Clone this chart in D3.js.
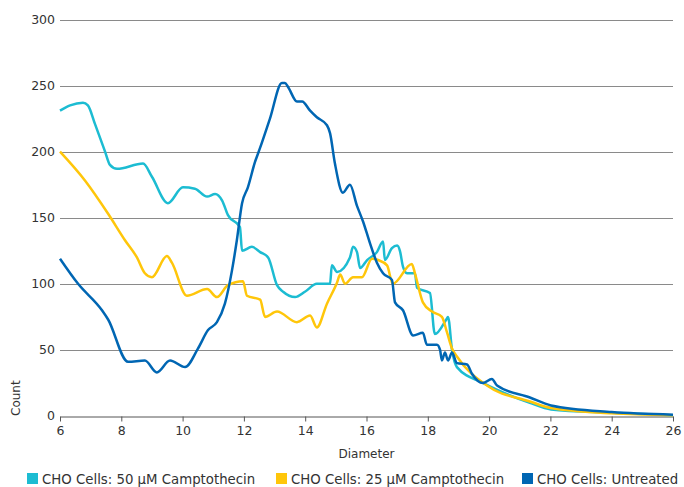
<!DOCTYPE html>
<html><head><meta charset="utf-8">
<script src="https://cdn.jsdelivr.net/npm/d3@7"></script>
<style>body{margin:0;background:#fff}svg{display:block;font-family:"DejaVu Sans",Verdana,sans-serif}</style>
</head><body><svg id="c" width="684" height="487"></svg>
<script>
const seriesNames = ["CHO Cells: 50 µM Camptothecin","CHO Cells: 25 µM Camptothecin","CHO Cells: Untreated"];
const seriesColors = ["#1cbcd2","#ffc60a","#0066b3"];
const xTicks = [6,8,10,12,14,16,18,20,22,24,26];
const yTicks = [0,50,100,150,200,250,300];

const camp50X = [6.00,6.33,6.75,6.91,7.14,7.47,7.63,7.86,8.71,9.00,9.52,10.01,10.40,10.80,11.06,11.29,11.48,11.87,11.94,12.26,12.53,12.79,13.08,13.28,13.67,13.99,14.38,14.81,14.87,15.04,15.46,15.56,15.69,15.79,16.02,16.34,16.54,16.60,16.83,17.00,17.09,17.19,17.32,17.58,17.65,18.07,18.23,18.63,18.66,18.79,18.95,19.80,21.33,22.02,24.0,26.0];
const camp50Y = [231,235,237,235,221,200,190,187,191,181,161,173,172,166,168,163,152,143,125,128,124,120,99,94,90,94,100,100,114,109,120,128,124,112,118,124,132,118,127,129,125,113,108,108,97,93,62,74,75,50,37,25,10,5,2.5,0.5];

const camp25X = [6.00,6.82,7.57,8.12,8.51,8.77,9.00,9.49,9.65,10.14,10.80,11.12,11.48,11.97,12.10,12.53,12.69,13.08,13.73,14.16,14.38,14.71,15.04,15.14,15.30,15.56,15.85,16.18,16.38,16.67,16.86,17.48,17.58,17.84,18.14,18.46,18.63,18.79,18.95,19.93,21.33,22.02,24.0,26.0];
const camp25Y = [200,178,153,133,120,108,105,121,116,91,96,90,99,102,91,88,75,79,71,76,67,85,101,107,100,105,105,119,118,114,100,115,108,86,79,75,63,51,45,23,11,6,2,0.5];

const untreatedX = [6.00,6.59,7.37,7.57,8.22,8.77,9.16,9.59,10.08,10.50,10.83,11.12,11.38,11.61,11.77,11.94,12.13,12.36,12.53,12.85,13.24,13.34,13.44,13.73,13.90,14.16,14.38,14.71,14.81,14.97,15.23,15.46,15.69,15.89,16.11,16.34,16.54,16.83,16.93,17.19,17.52,17.84,17.97,18.30,18.40,18.46,18.56,18.66,18.79,18.95,19.28,19.44,19.80,20.09,20.26,21.33,22.02,24.0,26.0];
const untreatedY = [119,100,80,73,41,42,33,42,37,51,65,71,85,110,133,161,173,192,203,225,252,252,249,238,238,231,226,220,214,191,169,175,159,147,131,116,108,103,86,80,61,63,54,54,50,42,48,42,48,40,39,32,25,28,23,14,8,3,1];

const xs = [camp50X, camp25X, untreatedX];
const ys = [camp50Y, camp25Y, untreatedY];

const svg = d3.select("#c");
const m = {l:60, r:673, t:19.5, b:416};
const x = d3.scaleLinear().domain([6,26]).range([m.l, m.r]);
const y = d3.scaleLinear().domain([0,300]).range([m.b, m.t]);

// gridlines
svg.append("g").selectAll("line").data(yTicks.filter(d=>d>0)).join("line")
  .attr("x1", m.l).attr("x2", m.r)
  .attr("y1", d=>Math.round(y(d))+0.5).attr("y2", d=>Math.round(y(d))+0.5)
  .attr("stroke", "#8a8a8a").attr("stroke-width", 1);

// y labels
svg.append("g").selectAll("text").data(yTicks).join("text")
  .attr("x", 55).attr("y", d=>y(d)).attr("dy","0.35em")
  .attr("text-anchor","end").attr("font-size", 12.5).attr("fill","#333")
  .text(d=>d);

// x axis
const xa = svg.append("g").attr("transform", `translate(0,${m.b+0.5})`)
  .call(d3.axisBottom(x).tickValues(xTicks).tickSize(5).tickSizeOuter(0).tickPadding(5));
xa.select(".domain").attr("stroke","#555");
xa.selectAll(".tick line").attr("stroke","#555");
xa.selectAll("text").attr("font-size", 12.5).attr("fill","#333").attr("font-family","DejaVu Sans, Verdana, sans-serif");

// axis titles
svg.append("text").attr("x", (m.l+m.r)/2).attr("y", 458).attr("text-anchor","middle")
  .attr("font-size", 12).attr("fill","#333").text("Diameter");
svg.append("text").attr("transform","translate(20,416) rotate(-90)").attr("text-anchor","start")
  .attr("font-size", 12).attr("fill","#333").text("Count");

// lines
const line = d3.line().x(d=>x(d[0])).y(d=>y(d[1])).curve(d3.curveMonotoneX);
[0,1,2].forEach(i=>{
  const pts = xs[i].map((v,j)=>[v, ys[i][j]]);
  svg.append("path").attr("d", line(pts)).attr("fill","none")
    .attr("stroke", seriesColors[i]).attr("stroke-width", 2.5).attr("stroke-linejoin","round");
});

// legend
const legX = [27, 276, 522];
seriesNames.forEach((n,i)=>{
  svg.append("rect").attr("x", legX[i]).attr("y", 473).attr("width", 11).attr("height", 11).attr("fill", seriesColors[i]);
  svg.append("text").attr("x", legX[i]+15).attr("y", 483.5).attr("font-size", 13.3).attr("fill","#333").text(n);
});
</script></body></html>
